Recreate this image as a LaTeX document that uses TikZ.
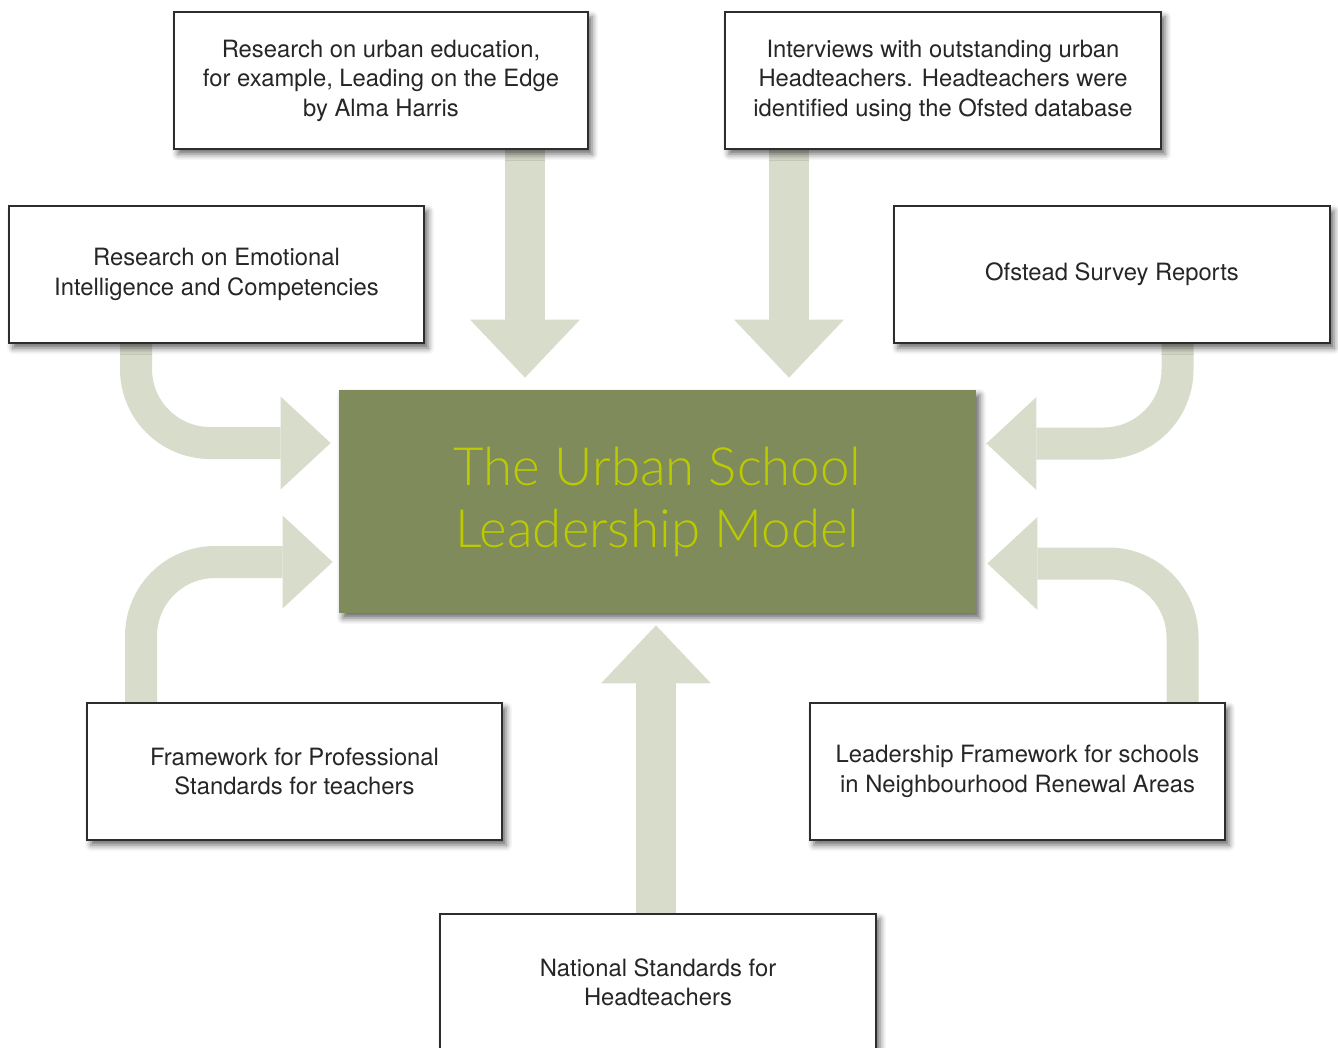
\documentclass[tikz,border=0pt]{standalone}
\usepackage{fontspec}
\setmainfont{TeX Gyre Heros}
\IfFontExistsTF{Lato Light}{\newfontfamily\titlefont{Lato Light}}{\newfontfamily\titlefont{TeX Gyre Heros}}
\usetikzlibrary{arrows.meta,shadows.blur,backgrounds}

\definecolor{flowgrey}{RGB}{216,220,203}
\definecolor{modelgreen}{RGB}{127,139,91}
\definecolor{titlelime}{RGB}{188,202,0}
\definecolor{edgegrey}{RGB}{45,45,45}

\tikzset{
  boxshadow/.style={blur shadow={shadow xshift=2pt, shadow yshift=-2.5pt, shadow blur radius=3pt, shadow opacity=60}},
  source/.style={draw=edgegrey, line width=0.6pt, fill=white, minimum width=#1, minimum height=68.5pt,
    inner sep=0pt, align=center, text=black!85, font=\fontsize{11.9}{14.75}\selectfont, boxshadow},
  model/.style={fill=modelgreen, minimum width=318.5pt, minimum height=111.5pt, inner sep=0pt,
    align=center, text=titlelime, font=\titlefont\fontsize{26.4}{31}\selectfont, boxshadow},
  bigflow/.style={draw=flowgrey, line width=20pt, -{Triangle[length=29pt,width=55pt,line width=0pt]}},
  bendflow/.style={draw=flowgrey, line width=16pt, rounded corners=37pt,
    -{Triangle[length=25pt,width=46.5pt,line width=0pt]}}
}

\begin{document}
\begin{tikzpicture}[x=0.5pt,y=-0.5pt]
  \useasboundingbox (0,0) rectangle (1338,1048);

  \node[model] (MO) at (657.5,501.5) {The Urban School\\Leadership Model};

  \node[source=207pt] (RU) at (381,80.5) {Research on urban education,\\for example, Leading on the Edge\\by Alma Harris};
  \node[source=218pt] (IH) at (943,80.5) {Interviews with outstanding urban\\Headteachers. Headteachers were\\identified using the Ofsted database};
  \node[source=207.5pt] (EI) at (216.5,274.5) {Research on Emotional\\Intelligence and Competencies};
  \node[source=218pt] (OS) at (1112,274.5) {Ofstead Survey Reports};
  \node[source=207.5pt] (FP) at (294.5,771.5) {Framework for Professional\\Standards for teachers};
  \node[source=207.5pt] (LF) at (1017.5,771.5) {Leadership Framework for schools\\in Neighbourhood Renewal Areas};
  \node[source=218pt] (NS) at (658,982.5) {National Standards for\\Headteachers};

  \begin{scope}[on background layer]
    \draw[bigflow, shorten >=6pt] ([xshift=72pt]RU.south) -- ([xshift=72pt]RU.south |- MO.north);
    \draw[bigflow, shorten >=6pt] ([xshift=-77pt]IH.south) -- ([xshift=-77pt]IH.south |- MO.north);
    \draw[bigflow, shorten >=6pt] ([xshift=-1pt]NS.north) -- ([xshift=-1pt]NS.north |- MO.south);

    \draw[bendflow, shorten >=4pt] ([xshift=-40.25pt]EI.south) |- ([yshift=29.25pt]MO.west);
    \draw[bendflow, shorten >=5pt] ([xshift=32.75pt]OS.south) |- ([yshift=29pt]MO.east);
    \draw[bendflow, shorten >=3pt] ([xshift=-76.75pt]FP.north) |- ([yshift=-30.25pt]MO.west);
    \draw[bendflow, shorten >=5.5pt] ([xshift=82.5pt]LF.north) |- ([yshift=-31pt]MO.east);
  \end{scope}
\end{tikzpicture}
\end{document}
